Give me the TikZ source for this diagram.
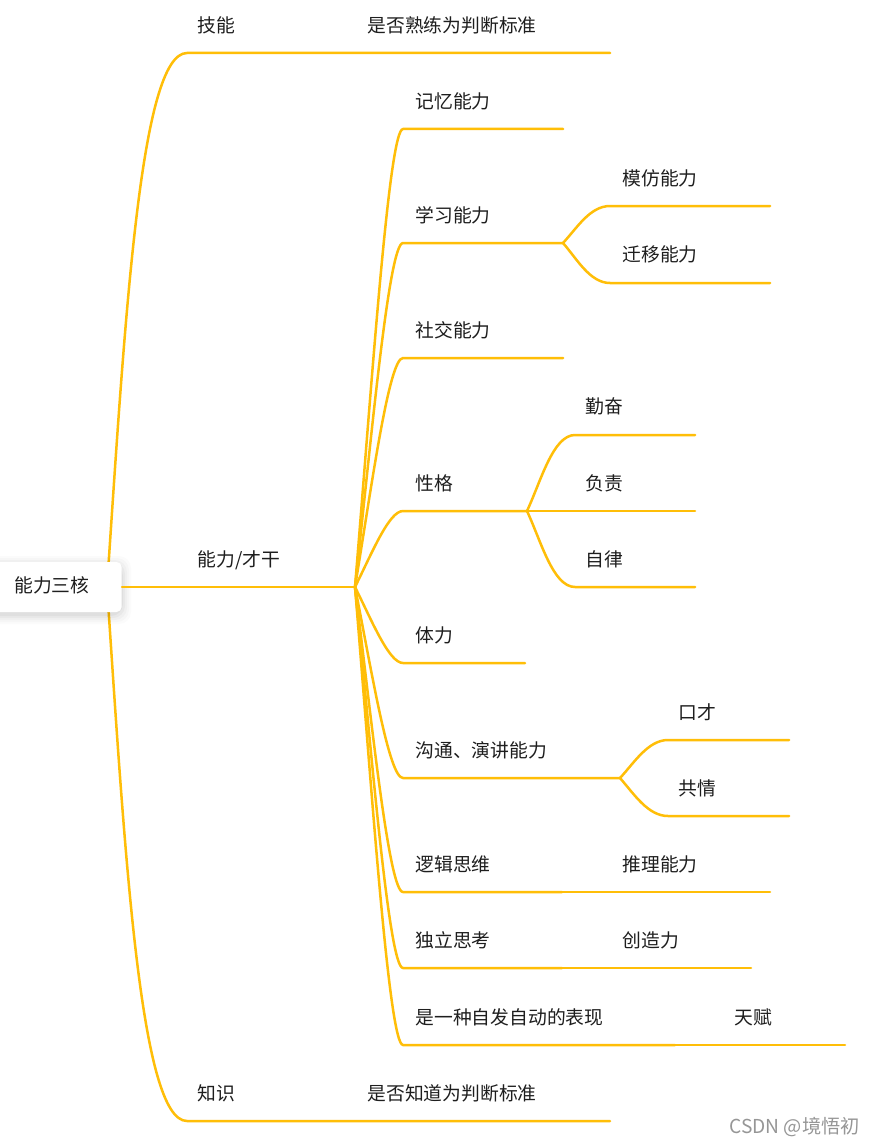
\documentclass[tikz,border=0pt]{standalone}
\usepackage{fontspec}
\setmainfont{Noto Sans CJK SC}
\usetikzlibrary{calc}
\definecolor{brc}{RGB}{255,190,8}
\definecolor{tx}{RGB}{30,30,30}
\definecolor{wmc}{RGB}{150,150,150}
\begin{document}
\begin{tikzpicture}[x=0.5pt,y=-0.5pt,
  lbl/.style={anchor=west,inner sep=0pt,text height=0.88em,text depth=0.12em,font=\fontsize{9.4}{11}\selectfont,text=tx},
  br/.style={draw=brc,line width=1.25pt,line cap=round,line join=round}]
\useasboundingbox (0,0) rectangle (874,1145);
\fill[white] (0,0) rectangle (874,1145);

% hubs
\coordinate (r) at (107,587);
\coordinate (nhub) at (355,587);

% level 1: 技能
\coordinate (jn0) at (187,53);
\coordinate (jn1) at (310,53);
\coordinate (jn2) at (610,53);
\draw[br] (r) .. controls +(18,-267) and +(-47,0) .. (jn0) -- (jn1) -- (jn2);
% level 1: 知识
\coordinate (zs0) at (187,1121);
\coordinate (zs1) at (310,1121);
\coordinate (zs2) at (610,1121);
\draw[br] (r) .. controls +(18,267) and +(-47,0) .. (zs0) -- (zs1) -- (zs2);

% level 2 under 能力/才干
\foreach \n/\t/\yl/\xe/\cy in {a/记忆能力/129/563/-206, b/学习能力/243/563/-155, c/社交能力/358/563/-103, d/性格/511/527/-34, e/体力/663/525/34, f/沟通、演讲能力/778/620/86, g/逻辑思维/892/562/137, h/独立思考/968/562/171, i/是一种自发自动的表现/1045/675/206} {
  \node[lbl] (\n) at (415,\yl-28) {\t};
  \coordinate (\n0) at (403,\yl);
  \coordinate (\n1) at (\xe,\yl);
  \draw[br] (nhub) .. controls +(17,\cy) and +(-14,0) .. (\n0) -- (\n1);
}

% level 3: 学习能力
\coordinate (b10) at (610,206); \coordinate (b11) at (770,206);
\coordinate (b20) at (610,283); \coordinate (b21) at (770,283);
\draw[br] (b1) .. controls +(14,-15) and +(-20,0) .. (b10) -- (b11);
\draw[br] (b1) .. controls +(14,16) and +(-20,0) .. (b20) -- (b21);
\node[lbl] (b1t) at (622,178) {模仿能力};
\node[lbl] (b2t) at (622,254) {迁移能力};

% level 3: 性格
\coordinate (d10) at (575,435); \coordinate (d11) at (695,435);
\coordinate (d21) at (695,511);
\coordinate (d30) at (575,587); \coordinate (d31) at (695,587);
\draw[br] (d1) .. controls +(14,-30) and +(-22,0) .. (d10) -- (d11);
\draw[br] (d1) -- (d21);
\draw[br] (d1) .. controls +(14,30) and +(-22,0) .. (d30) -- (d31);
\node[lbl] (d1t) at (585,406) {勤奋};
\node[lbl] (d2t) at (585,483) {负责};
\node[lbl] (d3t) at (585,559) {自律};

% level 3: 沟通、演讲能力
\coordinate (f10) at (668,740); \coordinate (f11) at (789,740);
\coordinate (f20) at (668,816); \coordinate (f21) at (789,816);
\draw[br] (f1) .. controls +(14,-15) and +(-20,0) .. (f10) -- (f11);
\draw[br] (f1) .. controls +(14,16) and +(-20,0) .. (f20) -- (f21);
\node[lbl] (f1t) at (678,712) {口才};
\node[lbl] (f2t) at (678,788) {共情};

% level 3: straight continuations
\coordinate (g2) at (770,892);
\draw[br] (g1) -- (g2);
\node[lbl] (gt) at (622,864) {推理能力};
\coordinate (h2) at (751,968);
\draw[br] (h1) -- (h2);
\node[lbl] (ht) at (622,940) {创造力};
\coordinate (i2) at (845,1045);
\draw[br] (i1) -- (i2);
\node[lbl] (it) at (734,1017) {天赋};

% root box with soft shadow
\foreach \s/\o in {9/0.015,7/0.02,5/0.025,3/0.03,1/0.035}
  \fill[black,opacity=\o,rounded corners=6pt] (-20,562-\s+3) rectangle (122+\s,612+\s+3);
\node (rootbox) [fill=white,rounded corners=2.5pt,minimum width=71pt,minimum height=25pt,inner sep=0pt,anchor=east] at (122,587) {};
\draw[br] (rootbox.east) -- (nhub);
\node[lbl] (root) at (14,585) {能力三核};

% level 1 labels
\node[lbl] (jineng) at (197,25) {技能};
\node[lbl] (jnc) at (367,25) {是否熟练为判断标准};
\node[lbl] (nengli) at (197,559) {能力/才干};
\node[lbl] (zhishi) at (197,1093) {知识};
\node[lbl] (zsc) at (367,1093) {是否知道为判断标准};

% watermark
\node[anchor=west,inner sep=0pt,text height=0.88em,text depth=0.12em,font=\fontsize{9.6}{11}\selectfont,text=wmc] (wm) at (729,1126) {CSDN @境悟初};
\end{tikzpicture}
\end{document}
